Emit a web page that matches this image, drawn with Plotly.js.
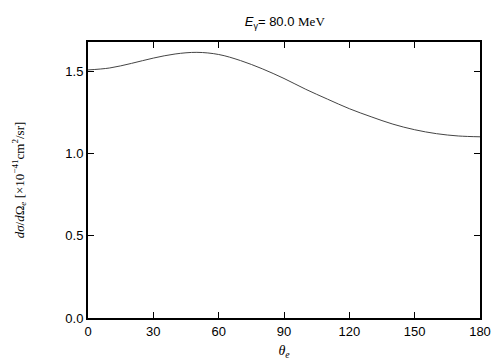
<!DOCTYPE html>
<html>
<head>
<meta charset="utf-8">
<script src="https://cdn.plot.ly/plotly-3.0.1.min.js"></script>
<style>html,body{margin:0;padding:0;background:#fff;}#chart{width:504px;height:360px;}</style>
</head>
<body>
<div id="chart"></div>
<script>
const theta = [0, 10, 20, 30, 40, 50, 60, 70, 80, 90, 100, 110, 120, 130, 140, 150, 160, 170, 180];
const dsigma = [1.51, 1.522, 1.55, 1.582, 1.607, 1.617, 1.604, 1.567, 1.517, 1.458, 1.392, 1.332, 1.274, 1.225, 1.18, 1.146, 1.122, 1.108, 1.103];
const xTicks = [0, 30, 60, 90, 120, 150, 180];
const yTicks = [0.0, 0.5, 1.0, 1.5];

const trace = {
  x: theta, y: dsigma, type: 'scatter', mode: 'lines',
  line: {color: '#444', width: 1, shape: 'spline', smoothing: 1},
  hoverinfo: 'skip'
};

const axisCommon = {
  showgrid: false, zeroline: false, showline: true, linecolor: '#000', linewidth: 2,
  mirror: 'ticks', ticks: 'inside', ticklen: 6, tickwidth: 1, tickcolor: '#000',
  tickfont: {family: 'Liberation Sans, Arial, sans-serif', size: 13, color: '#000'}
};

const layout = {
  width: 504, height: 360,
  margin: {l: 88, r: 24, t: 42, b: 42},
  paper_bgcolor: '#fff', plot_bgcolor: '#fff',
  showlegend: false,
  title: {
    text: '<i>E</i><sub>γ</sub>= 80.0 <span style="font-family:Liberation Serif">MeV</span>',
    font: {family: 'Liberation Sans, Arial, sans-serif', size: 13, color: '#000'},
    x: 0.565, xanchor: 'center', y: 0.94, yanchor: 'middle'
  },
  xaxis: Object.assign({}, axisCommon, {
    range: [0, 180], tickvals: xTicks, ticktext: xTicks.map(String),
    title: {text: '<i>θ</i><sub><i>e</i></sub>', font: {family: 'Liberation Serif, Times New Roman, serif', size: 14, color: '#000'}, standoff: 8}
  }),
  yaxis: Object.assign({}, axisCommon, {
    range: [0, 1.68], tickvals: yTicks, ticktext: yTicks.map(v => v.toFixed(1)),
    title: {text: '<i>dσ</i>/<i>d</i>Ω<sub><i>e</i></sub> [×10<sup>−41</sup>cm<sup>2</sup>/sr]', font: {family: 'Liberation Serif, Times New Roman, serif', size: 13, color: '#000'}, standoff: 38}
  })
};

Plotly.newPlot('chart', [trace], layout, {displayModeBar: false, staticPlot: true});
</script>
</body>
</html>
